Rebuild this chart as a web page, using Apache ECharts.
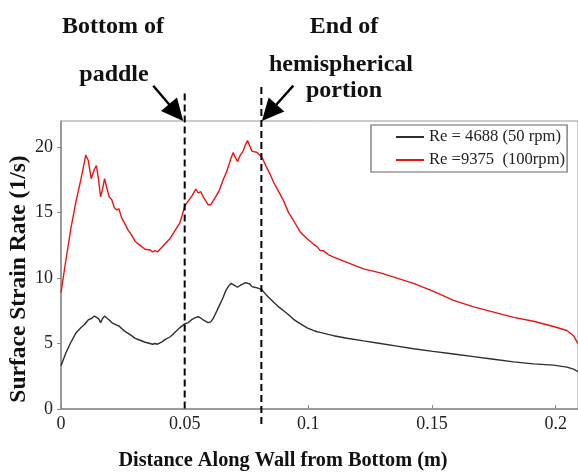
<!DOCTYPE html>
<html>
<head>
<meta charset="utf-8">
<script src="https://cdn.jsdelivr.net/npm/echarts@6/dist/echarts.min.js"></script>
<style>
html,body{margin:0;padding:0;background:#fff;}
#chart{width:578px;height:472px;}
</style>
</head>
<body>
<div id="chart"></div>
<script>
// Distance along wall (m)
var xValues = [0.000,0.002,0.004,0.006,0.008,0.0095,0.0100,0.0110,0.0122,0.0135,0.0143,0.0152,0.0160,0.0168,0.0176,0.0185,0.0195,0.0205,0.0215,0.0225,0.0234,0.0245,0.0257,0.0270,0.0285,0.030,0.032,0.034,0.036,0.037,0.038,0.039,0.040,0.041,0.042,0.044,0.045,0.046,0.048,0.049,0.050,0.0515,0.053,0.0545,0.0555,0.0565,0.0575,0.0585,0.0595,0.0605,0.0615,0.0625,0.064,0.0655,0.0665,0.0678,0.0688,0.0696,0.0705,0.0714,0.0725,0.0736,0.0746,0.0754,0.0763,0.0772,0.0782,0.0793,0.0803,0.0813,0.083,0.0846,0.086,0.088,0.090,0.092,0.094,0.0968,0.0995,0.1020,0.1035,0.1048,0.106,0.108,0.1102,0.1156,0.1223,0.1291,0.1358,0.1425,0.1504,0.1587,0.1668,0.1749,0.183,0.191,0.1991,0.2045,0.2072,0.209];
// Re = 9375 (100 rpm)
var redValues = [8.9,11.4,13.8,15.8,17.5,18.9,19.4,19.0,17.6,18.3,18.6,17.5,16.2,16.8,17.6,16.9,16.2,16.0,15.4,15.2,15.3,14.6,14.2,13.7,13.3,12.8,12.5,12.2,12.15,12.0,12.1,12.0,12.2,12.4,12.6,13.0,13.3,13.6,14.2,14.8,15.5,15.9,16.3,16.8,16.5,16.6,16.2,15.9,15.6,15.6,15.9,16.2,16.7,17.5,17.9,18.6,19.2,19.6,19.2,18.9,19.4,19.7,20.2,20.5,20.1,19.7,19.65,19.6,19.4,19.2,18.5,17.9,17.3,16.6,15.9,15.0,14.4,13.5,13.0,12.6,12.4,12.1,12.1,11.8,11.6,11.2,10.7,10.4,10.0,9.6,9.0,8.3,7.8,7.4,7.0,6.7,6.3,6.0,5.6,5.0];
// Re = 4688 (50 rpm)
var blackValues = [3.3,4.3,5.1,5.8,6.2,6.45,6.55,6.8,6.9,7.1,7.1,6.9,6.6,6.9,7.1,6.95,6.8,6.6,6.5,6.4,6.35,6.15,5.95,5.8,5.6,5.4,5.25,5.1,5.0,4.95,5.0,4.95,5.05,5.15,5.3,5.5,5.65,5.85,6.2,6.35,6.5,6.6,6.85,7.0,7.05,6.95,6.8,6.7,6.6,6.65,6.9,7.3,7.9,8.5,9.0,9.4,9.6,9.5,9.4,9.3,9.45,9.55,9.65,9.7,9.55,9.35,9.3,9.25,9.2,9.1,8.7,8.4,8.15,7.8,7.5,7.2,6.85,6.5,6.2,6.0,5.9,5.85,5.8,5.7,5.6,5.4,5.2,5.0,4.8,4.6,4.4,4.2,4.0,3.8,3.6,3.45,3.35,3.2,3.05,2.85];

var seriesNames = ['Re = 4688 (50 rpm)', 'Re =9375  (100rpm)'];
var xTicks = [0, 0.05, 0.1, 0.15, 0.2];
var yTicks = [0, 5, 10, 15, 20];

// Marker lines (x position, top value, bottom value)
var markerX = [0.05, 0.081];
var markerTop = [24.1, 24.6];
var markerBottom = [0, -1.3];

// Arrows: [tailX, tailY, tipX, tipY] in data units
var arrows = [[0.0373, 24.7, 0.0494, 22.0], [0.0939, 24.7, 0.0812, 22.0]];

// Annotation text
var annotations = [
  {text: 'Bottom of', x: 113, y: 27},
  {text: 'paddle', x: 114, y: 75},
  {text: 'End of', x: 344, y: 27},
  {text: 'hemispherical', x: 341, y: 65},
  {text: 'portion', x: 344, y: 91}
];

function pairs(xs, ys) { return xs.map(function (x, i) { return [x, ys[i]]; }); }

var serif = "'Liberation Serif','Times New Roman',serif";
var chart = echarts.init(document.getElementById('chart'), null, {renderer: 'canvas'});

var series = [
  {name: seriesNames[0], type: 'line', data: pairs(xValues, blackValues), showSymbol: false, symbol: 'none',
   lineStyle: {color: '#2e2e2e', width: 1.4}, itemStyle: {color: '#2e2e2e'}, z: 3},
  {name: seriesNames[1], type: 'line', data: pairs(xValues, redValues), showSymbol: false, symbol: 'none',
   lineStyle: {color: '#ee1111', width: 1.4}, itemStyle: {color: '#ee1111'}, z: 3}
];
markerX.forEach(function (mx, i) {
  series.push({name: 'marker' + i, type: 'line', clip: false, symbol: 'none', silent: true,
    data: [[mx, markerTop[i]], [mx, markerBottom[i]]],
    lineStyle: {color: '#000', width: 2, type: [7, 4]}, z: 4});
});

chart.setOption({
  animation: false,
  grid: {left: 61, right: 0, top: 121, bottom: 63, show: true, borderColor: '#999', borderWidth: 1},
  legend: {
    data: seriesNames, orient: 'vertical', left: 371, top: 125,
    padding: [3, 2, 3, 24], itemGap: 5, itemWidth: 28, itemHeight: 14,
    borderColor: '#666', borderWidth: 1.2, backgroundColor: '#fff',
    itemStyle: {opacity: 0},
    textStyle: {fontFamily: serif, fontSize: 16.6, color: '#222', lineHeight: 18}
  },
  xAxis: {
    type: 'value', min: 0, max: 0.209, interval: 0.05,
    axisLine: {show: true, lineStyle: {color: '#8a8a8a', width: 1.5}},
    axisTick: {show: true, inside: true, length: 4, lineStyle: {color: '#8a8a8a'}},
    splitLine: {show: false},
    axisLabel: {fontFamily: serif, fontSize: 18, color: '#222', margin: 6, showMaxLabel: false,
      formatter: function (v) { return xTicks.indexOf(Math.round(v * 100) / 100) >= 0 ? String(Math.round(v * 100) / 100) : ''; }}
  },
  yAxis: {
    type: 'value', min: 0, max: 22, interval: 5,
    axisLine: {show: true, lineStyle: {color: '#8a8a8a', width: 1.5}},
    axisTick: {show: true, inside: false, length: 4, lineStyle: {color: '#8a8a8a'}},
    splitLine: {show: false},
    axisLabel: {fontFamily: serif, fontSize: 18, color: '#222', margin: 8, showMaxLabel: false,
      formatter: function (v) { return yTicks.indexOf(v) >= 0 ? String(v) : ''; }}
  },
  series: series
});

var graphics = [];
annotations.forEach(function (a) {
  graphics.push({type: 'text', x: a.x, y: a.y, style: {text: a.text, font: 'bold 24px ' + serif, fill: '#111',
    textAlign: 'center', textVerticalAlign: 'middle'}});
});
graphics.push({type: 'text', x: 19, y: 279, rotation: Math.PI / 2,
  style: {text: 'Surface Strain Rate (1/s)', font: 'bold 23.5px ' + serif, fill: '#111', textAlign: 'center', textVerticalAlign: 'middle'}});
graphics.push({type: 'text', x: 283, y: 461,
  style: {text: 'Distance Along Wall from Bottom (m)', font: 'bold 20.3px ' + serif, fill: '#111', textAlign: 'center', textVerticalAlign: 'middle'}});

arrows.forEach(function (a) {
  var p0 = chart.convertToPixel({gridIndex: 0}, [a[0], a[1]]);
  var p1 = chart.convertToPixel({gridIndex: 0}, [a[2], a[3]]);
  var dx = p1[0] - p0[0], dy = p1[1] - p0[1];
  var len = Math.sqrt(dx * dx + dy * dy);
  var ux = dx / len, uy = dy / len;
  var headLen = 22, headHalf = 10.5;
  var bx = p1[0] - ux * headLen, by = p1[1] - uy * headLen;
  graphics.push({type: 'line', shape: {x1: p0[0], y1: p0[1], x2: bx + ux * 2, y2: by + uy * 2}, style: {stroke: '#000', lineWidth: 2.4}, z: 10});
  graphics.push({type: 'polygon', shape: {points: [[p1[0], p1[1]], [bx - uy * headHalf, by + ux * headHalf], [bx + uy * headHalf, by - ux * headHalf]]},
    style: {fill: '#000'}, z: 10});
});

chart.setOption({graphic: graphics});
</script>
</body>
</html>
